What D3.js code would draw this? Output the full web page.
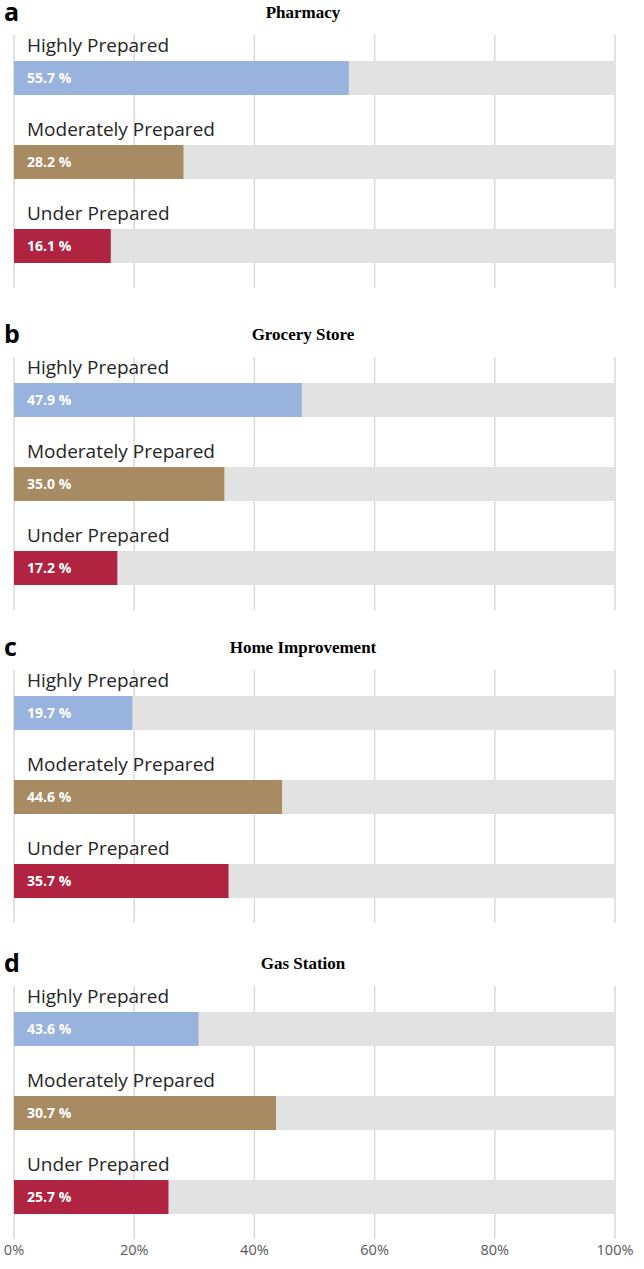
<!DOCTYPE html>
<html><head><meta charset="utf-8">
<script src="https://cdn.jsdelivr.net/npm/d3@7"></script>
<style>html,body{margin:0;padding:0;background:#fff;}</style>
</head><body>
<svg id="c" width="644" height="1269"></svg>
<script>
const panelLetters = ["a","b","c","d"];
const panelTitles = ["Pharmacy","Grocery Store","Home Improvement","Gas Station"];
const categories = ["Highly Prepared","Moderately Prepared","Under Prepared"];
// bar lengths as drawn in the picture
const pharmacyBars = [55.7, 28.2, 16.1];
const groceryBars = [47.9, 35.0, 17.2];
const homeBars = [19.7, 44.6, 35.7];
const gasBars = [30.7, 43.6, 25.7];
// labels printed inside the bars
const pharmacyLabels = ["55.7 %","28.2 %","16.1 %"];
const groceryLabels = ["47.9 %","35.0 %","17.2 %"];
const homeLabels = ["19.7 %","44.6 %","35.7 %"];
const gasLabels = ["43.6 %","30.7 %","25.7 %"];
const tickValues = [0,20,40,60,80,100];
const tickLabels = ["0%","20%","40%","60%","80%","100%"];

const barsAll = [pharmacyBars, groceryBars, homeBars, gasBars];
const labelsAll = [pharmacyLabels, groceryLabels, homeLabels, gasLabels];
const colors = ["#98b3de","#a88b63","#b02442"];
const panelTops = [0, 322, 635, 951];

const svg = d3.select("#c");
const x = d3.scaleLinear().domain([0,100]).range([14,615]);

panelTops.forEach((top, p) => {
  const g = svg.append("g").attr("transform", `translate(0,${top})`);
  const y = d3.scaleBand().domain(categories).range([36, 288]);
  g.selectAll("line.grid").data(tickValues).enter().append("line")
    .attr("x1", d => x(d)).attr("x2", d => x(d))
    .attr("y1", 35).attr("y2", 288)
    .attr("stroke", "#d9d9d9").attr("stroke-width", 1.5);
  g.append("text").attr("x", 4).attr("y", 21)
    .attr("font-family", "'Open Sans', sans-serif").attr("font-weight", 700)
    .attr("font-size", 25).attr("fill", "#000").text(panelLetters[p]);
  g.append("text").attr("x", 303).attr("y", 18).attr("text-anchor", "middle")
    .attr("font-family", "'Liberation Serif', serif").attr("font-weight", 700)
    .attr("font-size", 17).attr("fill", "#000").text(panelTitles[p]);
  categories.forEach((cat, i) => {
    const by = y(cat);
    const barTop = by + 25, barH = 34;
    g.append("text").attr("x", 27).attr("y", by + 16)
      .attr("font-family", "'Open Sans', sans-serif").attr("font-weight", 400)
      .attr("font-size", 19).attr("fill", "#262626").text(cat);
    g.append("rect").attr("x", x(0)).attr("y", barTop)
      .attr("width", x(100) - x(0)).attr("height", barH).attr("fill", "#e2e2e2");
    g.append("rect").attr("x", x(0)).attr("y", barTop)
      .attr("width", x(barsAll[p][i]) - x(0)).attr("height", barH).attr("fill", colors[i]);
    g.append("text").attr("x", 27).attr("y", barTop + barH/2 + 5)
      .attr("font-family", "'Open Sans', sans-serif").attr("font-weight", 700)
      .attr("font-size", 14).attr("fill", "#fff").text(labelsAll[p][i]);
  });
});

svg.selectAll("text.tick").data(tickValues).enter().append("text")
  .attr("x", d => x(d)).attr("y", 1255).attr("text-anchor", "middle")
  .attr("font-family", "'Open Sans', sans-serif").attr("font-size", 14.5)
  .attr("fill", "#595959").text((d,i) => tickLabels[i]);
</script>
</body></html>
